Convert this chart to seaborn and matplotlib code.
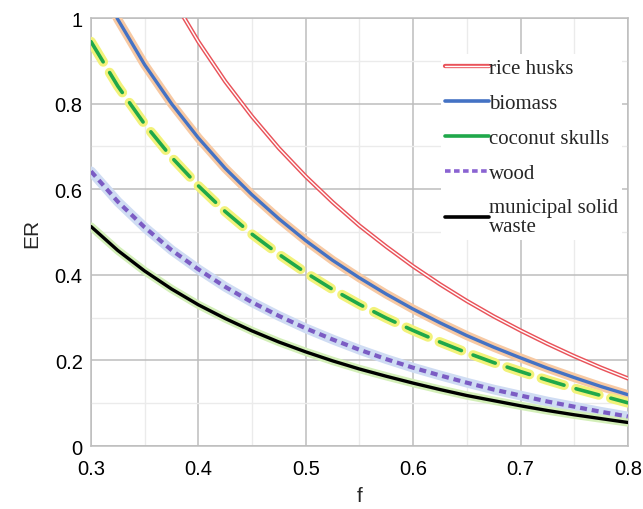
import matplotlib
matplotlib.use("Agg")
import matplotlib.pyplot as plt
from matplotlib.lines import Line2D
from matplotlib.legend_handler import HandlerTuple
import numpy as np
import pandas as pd
import seaborn as sns

# Fraction f and equivalence ratio ER for each feedstock
f_values = [0.300, 0.325, 0.350, 0.375, 0.400, 0.425, 0.450, 0.475, 0.500, 0.525,
            0.550, 0.575, 0.600, 0.625, 0.650, 0.675, 0.700, 0.725, 0.750, 0.775, 0.800]
rice_husks = [1.470, 1.308, 1.170, 1.050, 0.945, 0.852, 0.770, 0.696, 0.630, 0.570,
              0.515, 0.466, 0.420, 0.378, 0.339, 0.303, 0.270, 0.239, 0.210, 0.183, 0.158]
biomass = [1.120, 0.997, 0.891, 0.800, 0.720, 0.649, 0.587, 0.531, 0.480, 0.434,
           0.393, 0.355, 0.320, 0.288, 0.258, 0.231, 0.206, 0.182, 0.160, 0.139, 0.120]
coconut_skulls = [0.945, 0.841, 0.752, 0.675, 0.608, 0.548, 0.495, 0.448, 0.405, 0.366,
                  0.331, 0.299, 0.270, 0.243, 0.218, 0.195, 0.174, 0.154, 0.135, 0.118, 0.101]
wood = [0.642, 0.571, 0.511, 0.458, 0.413, 0.372, 0.336, 0.304, 0.275, 0.249,
        0.225, 0.203, 0.183, 0.165, 0.148, 0.132, 0.118, 0.104, 0.092, 0.080, 0.069]
msw = [0.513, 0.457, 0.409, 0.367, 0.330, 0.298, 0.269, 0.243, 0.220, 0.199,
       0.180, 0.163, 0.147, 0.132, 0.118, 0.106, 0.094, 0.083, 0.073, 0.064, 0.055]

labels = ["rice husks", "biomass", "coconut skulls", "wood", "municipal solid\nwaste"]
x_ticks = [0.3, 0.4, 0.5, 0.6, 0.7, 0.8]
y_ticks = [0, 0.2, 0.4, 0.6, 0.8, 1.0]
y_tick_labels = ["0", "0.2", "0.4", "0.6", "0.8", "1"]

df = pd.DataFrame({"f": f_values, "rice": rice_husks, "biomass": biomass,
                   "coconut": coconut_skulls, "wood": wood, "msw": msw})

sns.set_style("white")
plt.rcParams["font.family"] = ["Liberation Sans", "DejaVu Sans"]
plt.rcParams["lines.scale_dashes"] = False

fig = plt.figure(figsize=(6.43, 5.10), dpi=100)
ax = fig.add_axes([0.1415, 0.1235, 0.835, 0.839])

# grid
ax.set_xlim(0.3, 0.8)
ax.set_ylim(0, 1)
ax.set_xticks(x_ticks)
ax.set_xticks(np.arange(0.35, 0.8, 0.1), minor=True)
ax.set_yticks(y_ticks)
ax.set_yticks(np.arange(0.1, 1.0, 0.2), minor=True)
ax.grid(True, which="major", color="#bdbdbd", lw=1.1, zorder=0)
ax.grid(True, which="minor", color="#ebebeb", lw=1.0, zorder=0)
ax.set_axisbelow(True)
for s in ax.spines.values():
    s.set_color("#bdbdbd")
    s.set_linewidth(1.1)

cap = dict(solid_capstyle="round", dash_capstyle="round")

# rice husks: red double line
sns.lineplot(data=df, x="f", y="rice", ax=ax, color="#e9535a", lw=3.1, zorder=5, **cap)
sns.lineplot(data=df, x="f", y="rice", ax=ax, color="white", lw=1.0, zorder=6, **cap)

# biomass: blue with orange halo
sns.lineplot(data=df, x="f", y="biomass", ax=ax, color="#f7c9a3", lw=6.5, zorder=4, **cap)
sns.lineplot(data=df, x="f", y="biomass", ax=ax, color="#4472c4", lw=2.4, zorder=5, **cap)

# coconut skulls: green dashed with yellow halo
sns.lineplot(data=df, x="f", y="coconut", ax=ax, color="#f2f27a", lw=7.0, zorder=4,
             linestyle=(0, (17, 9)), dash_capstyle="round")
sns.lineplot(data=df, x="f", y="coconut", ax=ax, color="#1fa84a", lw=2.6, zorder=5,
             linestyle=(0, (17, 9)), dash_capstyle="round")

# wood: purple short dashes with light blue halo
sns.lineplot(data=df, x="f", y="wood", ax=ax, color="#cfdcf3", lw=7.0, zorder=4, **cap)
sns.lineplot(data=df, x="f", y="wood", ax=ax, color="#7b5cc4", lw=3.0, zorder=5,
             linestyle=(0, (5, 3.5)), dash_capstyle="butt")

# municipal solid waste: black with light green halo
sns.lineplot(data=df, x="f", y="msw", ax=ax, color="#d3efb8", lw=6.0, zorder=4, **cap)
sns.lineplot(data=df, x="f", y="msw", ax=ax, color="black", lw=2.4, zorder=5, **cap)

ax.set_xticklabels([f"{v:.1f}" for v in x_ticks])
ax.set_yticklabels(y_tick_labels)
ax.tick_params(axis="both", which="both", length=0, labelsize=14.5, colors="black")
ax.tick_params(axis="x", pad=9)
ax.tick_params(axis="y", pad=6)
ax.set_xlabel("f", fontsize=15, labelpad=6)
ax.set_ylabel("ER", fontsize=15, labelpad=10)

# legend
h_rice = (Line2D([], [], color="#e9535a", lw=3.1), Line2D([], [], color="white", lw=1.0))
h_bio = Line2D([], [], color="#4472c4", lw=2.6)
h_coc = Line2D([], [], color="#1fa84a", lw=2.6)
h_wood = Line2D([], [], color="#8a63d2", lw=2.6, linestyle=(0, (4, 2.5)))
h_msw = Line2D([], [], color="black", lw=2.6)
leg = ax.legend([h_rice, h_bio, h_coc, h_wood, h_msw], labels,
                handler_map={tuple: HandlerTuple(ndivide=1, pad=0)},
                loc="upper left", bbox_to_anchor=(0.6696, 0.912),
                bbox_transform=fig.transFigure,
                prop={"family": ["Liberation Serif"], "size": 15},
                frameon=True, facecolor="white", edgecolor="none", framealpha=1,
                handlelength=2.1, handletextpad=0.0, labelspacing=0.74,
                borderpad=0.2, fancybox=False)
for t in leg.get_texts():
    t.set_linespacing(0.95)
leg.set_zorder(10)

fig.savefig("out.png", dpi=100)
